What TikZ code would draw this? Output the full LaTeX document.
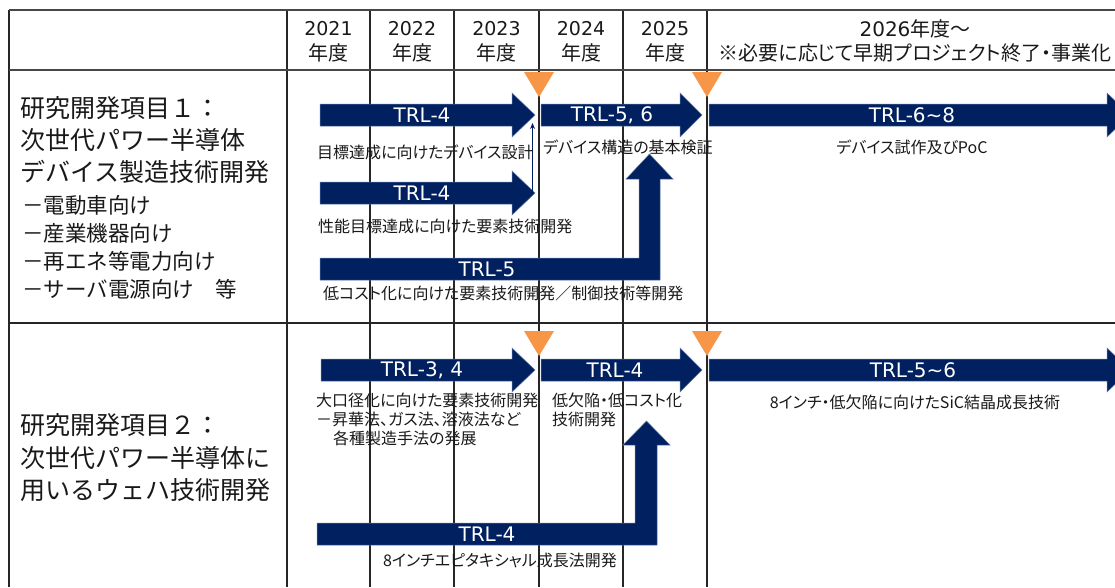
\documentclass[tikz,border=0pt]{standalone}
\usepackage{fontspec}
\setmainfont{Noto Sans CJK JP}
\newfontfamily\jpp{Noto Sans CJK JP}[RawFeature=+palt]
\newfontfamily\latinf{DejaVu Sans}
\usetikzlibrary{arrows.meta}
\definecolor{navy}{RGB}{0,32,96}
\definecolor{navyedge}{RGB}{95,120,165}
\definecolor{orng}{RGB}{247,150,70}
\definecolor{txt}{RGB}{25,25,25}
\newcommand{\hblockarrow}[4]{% x1, head base, tip, y
  \path[blockarrow] ({#1},{#4-11}) -- ({#2},{#4-11}) -- ({#2},{#4-22}) -- ({#3},{#4})
    -- ({#2},{#4+22}) -- ({#2},{#4+11}) -- ({#1},{#4+11}) -- cycle;}
\newcommand{\downtri}[2]{%
  \path[tri] ({#1-15},{#2}) -- ({#1+15},{#2}) -- ({#1},{#2+25}) -- cycle;}
\begin{document}
\begin{tikzpicture}[x=1pt,y=-1pt,
  gridline/.style={line width=1.2pt, draw=black!85},
  frameline/.style={line width=1.8pt, draw=black!72},
  blockarrow/.style={fill=navy, draw=navyedge, line width=0.5pt},
  tri/.style={fill=orng},
  trltext/.style={text=white, font=\latinf\fontsize{20}{21}\selectfont, inner sep=0},
  desctext/.style={text=txt, font=\jpp\fontsize{16}{18}\selectfont, inner sep=0, anchor=west},
  hdrtext/.style={text=txt, font=\jpp\fontsize{20}{22}\selectfont, inner sep=0},
  yeartext/.style={text=txt, font=\latinf\fontsize{19}{21}\selectfont, inner sep=0},
  lbltext/.style={text=txt, font=\fontsize{25}{28}\selectfont, anchor=west, inner sep=0},
  subtext/.style={text=txt, font=\fontsize{21.5}{24}\selectfont, anchor=west, inner sep=0}]
\useasboundingbox (0,0) rectangle (1115,587);
\clip (0,0) rectangle (1115,587);
\fill[white] (0,0) rectangle (1115,587);

% grid
\foreach \x in {287,370,454,539,623,707}
  \draw[gridline] (\x,10) -- (\x,587);
\draw[gridline] (9,10) -- (9,587);
\draw[frameline] (9,10) -- (1115,10);
\draw[frameline] (9,70) -- (1115,70);
\draw[gridline, line width=1.5pt] (9,323) -- (1115,323);

% header
\foreach \c/\yr [count=\i] in {328.5/2021, 412/2022, 496.5/2023, 581/2024, 665/2025} {
  \node[yeartext] (yr\i) at (\c,29) {\yr};
  \node[hdrtext] (nd\i) at (\c,53) {年度};
}
\node[hdrtext] (yr6) at (915,29) {{\latinf 2026}年度～};
\node[hdrtext] (nd6) at (915,53) {※必要に応じて早期プロジェクト終了・事業化};

% row labels
\node[lbltext] (r1a) at (20,108) {研究開発項目１：};
\node[lbltext] (r1b) at (20,140) {次世代パワー半導体};
\node[lbltext] (r1c) at (20,172) {デバイス製造技術開発};
\node[subtext] (s1) at (22,205) {－電動車向け};
\node[subtext] (s2) at (22,233) {－産業機器向け};
\node[subtext] (s3) at (22,261) {－再エネ等電力向け};
\node[subtext] (s4) at (22,289) {－サーバ電源向け　等};
\node[lbltext] (r2a) at (20,425) {研究開発項目２：};
\node[lbltext] (r2b) at (20,458) {次世代パワー半導体に};
\node[lbltext] (r2c) at (20,490) {用いるウェハ技術開発};

% milestones
\downtri{539}{72}
\downtri{707}{72}
\downtri{539}{331}
\downtri{707}{331}

% row 1 arrows
\hblockarrow{320}{512}{535}{115}
\hblockarrow{320}{512}{535}{193}
\hblockarrow{541}{680}{702}{115}
\hblockarrow{709}{1107}{1130}{115}
\path[blockarrow] (320,258) -- (639,258) -- (639,179) -- (626,179) -- (649.5,154)
  -- (673,179) -- (660,179) -- (660,280) -- (320,280) -- cycle;
\coordinate (tb) at (532.5,193);
\coordinate (tt) at (532.5,123);
\draw[navy, line width=1.3pt, -{Stealth[length=6pt,width=5pt]}] (tb) -- (tt);

% row 2 arrows
\hblockarrow{321}{512}{535}{370}
\hblockarrow{541}{680}{702}{370}
\hblockarrow{709}{1107}{1130}{370}
\path[blockarrow] (317,523) -- (635,523) -- (635,445) -- (623,445) -- (646.5,421)
  -- (670,445) -- (657,445) -- (657,545) -- (317,545) -- cycle;

% TRL labels
\node[trltext] (t1) at (422,115) {TRL-4};
\node[trltext] (t2) at (422,193) {TRL-4};
\node[trltext] (t3) at (487,269) {TRL-5};
\node[trltext] (t4) at (612,115) {TRL-5, 6};
\node[trltext] (t5) at (912,115) {TRL-6\textasciitilde 8};
\node[trltext] (t6) at (422,370) {TRL-3, 4};
\node[trltext] (t7) at (615,370) {TRL-4};
\node[trltext] (t8) at (913,370) {TRL-5\textasciitilde 6};
\node[trltext] (t9) at (487,534) {TRL-4};

% descriptions
\node[desctext] (d1) at (317,152) {目標達成に向けたデバイス設計};
\node[desctext] (d2) at (318,226) {性能目標達成に向けた要素技術開発};
\node[desctext] (d3) at (323,293) {低コスト化に向けた要素技術開発／制御技術等開発};
\node[desctext] (d4) at (543,147) {デバイス構造の基本検証};
\node[desctext, anchor=center] (d5) at (912,147) {デバイス試作及びPoC};
\node[desctext] (d6) at (316,400) {大口径化に向けた要素技術開発};
\node[desctext] (d7) at (316,419) {－昇華法、ガス法、溶液法など};
\node[desctext] (d8) at (333,438) {各種製造手法の発展};
\node[desctext] (d9) at (552,400) {低欠陥・低コスト化};
\node[desctext] (d10) at (552,419) {技術開発};
\node[desctext, anchor=center] (d11) at (915,402) {8インチ・低欠陥に向けたSiC結晶成長技術};
\node[desctext, anchor=center] (d12) at (500,560) {8インチエピタキシャル成長法開発};
\end{tikzpicture}
\end{document}
